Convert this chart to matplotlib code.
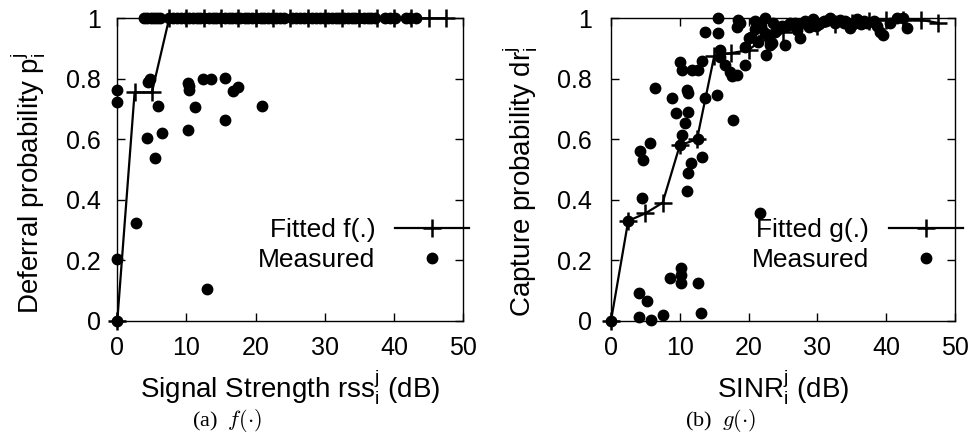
import matplotlib
matplotlib.use("Agg")
import matplotlib.pyplot as plt

# fitted curves (every 2.5 dB)
fit_x = [0, 2.5, 5, 7.5, 10, 12.5, 15, 17.5, 20, 22.5, 25, 27.5, 30, 32.5, 35, 37.5, 40, 42.5, 45, 47.5]
fit_f = [0, 0.755, 0.755, 1, 1, 1, 1, 1, 1, 1, 1, 1, 1, 1, 1, 1, 1, 1, 1, 1]
fit_g = [0, 0.33, 0.355, 0.39, 0.58, 0.60, 0.875, 0.885, 0.895, 0.94, 0.955, 0.97,
         0.975, 0.98, 0.985, 0.99, 0.995, 0.995, 0.995, 0.985]

# measured deferral probability (left)
f_top_x = [3.8, 4.3, 4.8, 5.3, 5.8, 6.2, 7.4, 8.0, 8.6, 9.2, 9.8, 10.3, 10.9, 11.5, 12.0,
           12.6, 13.2, 13.8, 14.3, 14.9, 15.5, 16.1, 16.6, 17.2, 17.8, 18.4, 18.9, 19.5,
           20.1, 20.7, 21.2, 21.8, 22.4, 23.0, 23.5, 24.1, 25.2, 25.8, 26.4, 27.0, 27.5,
           28.1, 28.7, 29.3, 29.8, 30.4, 31.0, 31.6, 32.1, 32.7, 33.3, 33.9, 34.4, 35.0,
           35.6, 36.2, 36.7, 37.3, 38.7, 39.4, 40.2, 41.7, 42.3, 43.2]
f_low_x = [0, 0, 0, 0, 2.7, 4.25, 4.5, 4.7, 5.9, 5.45, 6.5, 10.2, 10.3, 10.4, 11.2, 10.2,
           12.4, 13.6, 13.0, 15.6, 15.6, 16.7, 17.4, 20.9]
f_low_y = [0.763, 0.724, 0.203, 0, 0.324, 0.603, 0.79, 0.80, 0.71, 0.539, 0.622, 0.785,
           0.763, 0.775, 0.706, 0.63, 0.80, 0.80, 0.104, 0.803, 0.664, 0.76, 0.773, 0.71]

# measured capture probability (right)
g_x = [0, 4.1, 5.3, 4.1, 5.8, 7.6, 8.6, 10.2, 10.2, 10.2, 12.7, 13.1, 21.7,
       2.5, 4.5, 4.2, 4.7, 5.7, 6.4, 8.8, 9.5, 10.7, 10.3, 11.2, 11.6, 13.2, 11.1, 10.0,
       11.0, 11.2, 11.2, 13.7, 15.4, 17.8, 10.0, 10.3, 11.8, 12.7, 13.2, 15.8, 15.8,
       16.6, 17.3, 18.3, 17.6, 19.5, 12.7,
       13.6, 15.5, 15.6, 18.5, 18.3, 18.8, 20.9, 22.4, 20.0, 20.4, 21.4, 22.4, 22.9,
       23.4, 22.6, 23.1, 19.5, 21.0, 21.8, 23.8, 24.5, 25.3, 27.5, 26.0, 29.4, 31.8,
       33.3, 34.7, 35.7, 37.2, 39.1, 39.6, 40.6, 42.5, 43.0, 25.5, 26.8, 28.2, 28.8,
       30.3, 30.9, 32.5, 34.0, 36.3, 38.2, 27.0, 24.2, 29.8, 33.8, 36.8, 41.5, 23.6,
       24.9, 28.0, 31.2, 35.2, 38.6]
g_y = [0, 0.09, 0.066, 0.011, 0.002, 0.019, 0.14, 0.173, 0.151, 0.126, 0.124, 0.026, 0.355,
       0.33, 0.405, 0.562, 0.531, 0.589, 0.768, 0.735, 0.686, 0.653, 0.614, 0.49, 0.52, 0.54,
       0.43, 0.58, 0.763, 0.752, 0.691, 0.735, 0.746, 0.664, 0.855, 0.829, 0.83, 0.83, 0.86,
       0.895, 0.873, 0.845, 0.823, 0.812, 0.81, 0.845, 0.60,
       0.956, 0.952, 1.0, 0.994, 0.972, 0.985, 0.99, 1.0, 0.934, 0.939, 0.923, 0.95, 0.934,
       0.917, 0.878, 0.912, 0.906, 0.965, 0.975, 0.955, 0.97, 0.912, 0.934, 0.986, 0.997,
       1.0, 0.994, 0.967, 0.997, 0.986, 0.956, 0.945, 0.986, 1.0, 0.967, 0.975, 0.985,
       0.99, 0.97, 0.98, 0.99, 0.985, 0.99, 0.98, 0.99, 0.96, 0.96, 0.975, 0.985, 0.99,
       1.0, 0.985, 0.975, 0.985, 0.99, 0.98, 0.975]

xticks = [0, 10, 20, 30, 40, 50]
yticks = [0, 0.2, 0.4, 0.6, 0.8, 1]
ytick_labels = ["0", "0.2", "0.4", "0.6", "0.8", "1"]

plt.rcParams["font.family"] = ["Liberation Sans", "DejaVu Sans"]
plt.rcParams["mathtext.fontset"] = "custom"
plt.rcParams["mathtext.rm"] = "Liberation Sans"
plt.rcParams["mathtext.it"] = "Liberation Sans:italic"

TICK_FS = 18
LABEL_FS = 20
LEG_FS = 19

fig = plt.figure(figsize=(9.78, 4.38), dpi=100)
bottom = (438 - 320.7) / 438
height = 302.4 / 438
ax1 = fig.add_axes([117.3 / 978, bottom, 346 / 978, height])
ax2 = fig.add_axes([611 / 978, bottom, 344 / 978, height])


def style(ax, ypad):
    ax.set_xlim(0, 50)
    ax.set_ylim(0, 1)
    ax.set_xticks(xticks)
    ax.set_yticks(yticks)
    ax.set_yticklabels(ytick_labels)
    ax.tick_params(direction="in", top=True, right=True, length=6, width=1,
                   labelsize=TICK_FS, color="black")
    ax.tick_params(axis="x", pad=11)
    ax.tick_params(axis="y", pad=ypad)
    for s in ax.spines.values():
        s.set_linewidth(1)


def legend(ax, xa):
    ax.legend(loc="center right", bbox_to_anchor=(xa, 0.25), frameon=False,
              markerfirst=False, fontsize=LEG_FS, handlelength=2.8, handletextpad=0.75,
              borderaxespad=0, borderpad=0, labelspacing=0.25, numpoints=1)


# left panel
ax1.plot(fit_x, fit_f, color="black", lw=1.6, marker="+", ms=13, mew=1.8,
         label="Fitted f(.)", clip_on=False, zorder=3)
ax1.plot(f_top_x + f_low_x, [1] * len(f_top_x) + f_low_y, ls="none", marker="o",
         ms=7.5, color="black", label="Measured", clip_on=False, zorder=4)
style(ax1, 12)
ax1.set_xlabel(r"Signal Strength rss$^{\mathrm{j}}_{\mathrm{i}}$ (dB)", fontsize=LABEL_FS)
ax1.set_ylabel(r"Deferral probability p$^{\mathrm{j}}_{\mathrm{i}}$", fontsize=LABEL_FS)
ax1.xaxis.set_label_coords(0.5, -0.155)
ax1.yaxis.set_label_coords(-0.200, 0.455)
legend(ax1, 1.016)

# right panel
ax2.plot(fit_x, fit_g, color="black", lw=1.6, marker="+", ms=13, mew=1.8,
         label="Fitted g(.)", clip_on=False, zorder=3)
ax2.plot(g_x, g_y, ls="none", marker="o", ms=7.5, color="black", label="Measured",
         clip_on=False, zorder=4)
style(ax2, 14)
ax2.set_xlabel(r"SINR$^{\mathrm{j}}_{\mathrm{i}}$ (dB)", fontsize=LABEL_FS)
ax2.set_ylabel(r"Capture probability dr$^{\mathrm{j}}_{\mathrm{i}}$", fontsize=LABEL_FS)
ax2.xaxis.set_label_coords(0.5, -0.155)
ax2.yaxis.set_label_coords(-0.206, 0.46)
legend(ax2, 1.022)

# captions
fig.text(227 / 978, 1 - 421 / 438, r"(a)  $f(\cdot)$", fontsize=16, ha="center", va="center",
         family="Liberation Serif", math_fontfamily="cm")
fig.text(720 / 978, 1 - 421 / 438, r"(b)  $g(\cdot)$", fontsize=16, ha="center", va="center",
         family="Liberation Serif", math_fontfamily="cm")

fig.savefig("out.png", dpi=100)
